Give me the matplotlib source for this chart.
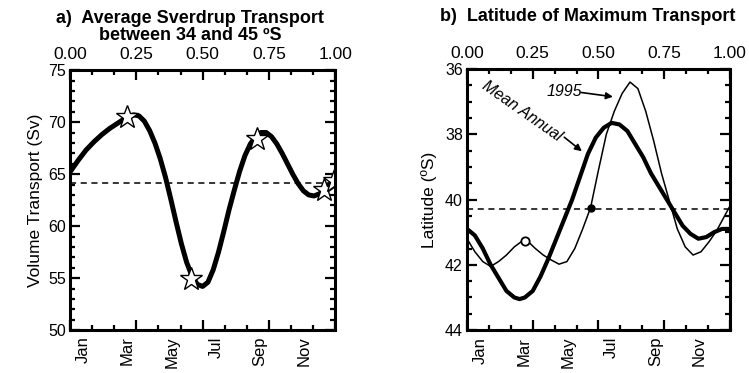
import numpy as np
import matplotlib
matplotlib.use("Agg")
from matplotlib import pyplot as plt
from matplotlib import transforms

plt.rcParams['font.family'] = ['Liberation Sans', 'DejaVu Sans']

# Datos (x = fraccion del ano)
# ================================================
# a) transporte medio de Sverdrup (Sv)
x_a = [0.00, 0.03, 0.06, 0.09, 0.12, 0.15, 0.18, 0.21, 0.24, 0.26, 0.28, 0.30,
       0.32, 0.34, 0.36, 0.38, 0.40, 0.42, 0.44, 0.46, 0.48, 0.50, 0.52, 0.54,
       0.56, 0.58, 0.60, 0.62, 0.64, 0.66, 0.68, 0.70, 0.72, 0.74, 0.76, 0.78,
       0.80, 0.82, 0.84, 0.86, 0.88, 0.90, 0.92, 0.94, 0.96, 0.98, 1.00]
transporte = [65.2, 66.3, 67.3, 68.1, 68.8, 69.4, 69.9, 70.4, 70.7, 70.6, 70.1, 69.2,
              68.0, 66.5, 64.7, 62.6, 60.4, 58.3, 56.5, 55.2, 54.4, 54.2, 54.6, 55.8,
              57.5, 59.5, 61.6, 63.5, 65.3, 66.8, 67.9, 68.6, 69.0, 69.0, 68.6, 67.9,
              67.0, 66.0, 65.0, 64.1, 63.4, 63.0, 62.9, 63.1, 63.5, 64.0, 64.5]
estrellas_x = [0.213, 0.458, 0.707, 0.958, 0.995]
estrellas_y = [70.5, 54.9, 68.4, 63.5, 64.3]
media_a = 64.1

# b) latitud del transporte maximo (oS)
x_b = [0.00, 0.03, 0.06, 0.09, 0.12, 0.15, 0.18, 0.20, 0.22, 0.25, 0.28, 0.31,
       0.34, 0.37, 0.40, 0.43, 0.46, 0.49, 0.52, 0.55, 0.58, 0.61, 0.64, 0.67,
       0.70, 0.73, 0.76, 0.79, 0.82, 0.85, 0.88, 0.91, 0.94, 0.97, 1.00]
lat_media = [40.9, 41.1, 41.5, 42.0, 42.4, 42.8, 43.0, 43.05, 43.0, 42.8, 42.35, 41.8,
             41.2, 40.6, 40.0, 39.3, 38.6, 38.1, 37.8, 37.65, 37.7, 37.9, 38.3, 38.7,
             39.2, 39.6, 40.0, 40.4, 40.8, 41.05, 41.2, 41.15, 41.0, 40.9, 40.9]
x_1995 = [0.00, 0.03, 0.06, 0.09, 0.12, 0.15, 0.18, 0.21, 0.23, 0.26, 0.29, 0.32,
          0.35, 0.38, 0.41, 0.44, 0.47, 0.50, 0.53, 0.56, 0.59, 0.62, 0.65, 0.68,
          0.71, 0.74, 0.77, 0.80, 0.83, 0.86, 0.89, 0.92, 0.95, 0.98, 1.00]
lat_1995 = [41.2, 41.6, 41.9, 42.05, 41.9, 41.7, 41.45, 41.27, 41.27, 41.5, 41.7, 41.85,
            41.98, 41.9, 41.5, 40.9, 40.25, 39.1, 38.0, 37.3, 36.75, 36.4, 36.6, 37.3,
            38.2, 39.2, 40.05, 40.9, 41.45, 41.7, 41.6, 41.3, 40.95, 40.5, 40.2]
media_b = 40.3
circulo = (0.22, 41.27)
punto = (0.47, 40.25)

meses = ['Jan', 'Mar', 'May', 'Jul', 'Sep', 'Nov']
meses_idx = [0, 2, 4, 6, 8, 10]
top_labels = ['0.00', '0.25', '0.50', '0.75', '1.00']


def ejes(ax):
    # ticks hacia dentro en los cuatro lados
    for s in ax.spines.values():
        s.set_linewidth(2.2)
    ax.set_xlim(0, 1)
    ax.set_xticks(np.arange(0, 1.01, 0.25))
    ax.set_xticklabels(top_labels)
    ax.set_xticks(np.arange(13) / 12, minor=True)
    ax.tick_params(which='both', direction='in', top=True, right=True,
                   labeltop=True, labelbottom=False, width=1.6)
    ax.tick_params(which='major', length=7, pad=3)
    ax.tick_params(axis='x', which='major', pad=6)
    ax.tick_params(which='minor', length=3.5)
    ax.tick_params(axis='x', labelsize=12.5)
    ax.tick_params(axis='y', labelsize=11.5)
    tr = transforms.blended_transform_factory(ax.transData, ax.transAxes)
    for m, nombre in zip(meses_idx, meses):
        ax.text((m + 0.6) / 12, -0.025, nombre, transform=tr, rotation=90,
                ha='center', va='top', fontsize=12)


fig = plt.figure(figsize=(7.49, 3.73), dpi=100)

# a) Transporte
ax1 = fig.add_axes([0.0935, 0.115, 0.354, 0.697])
ax1.plot(x_a, transporte, color='black', lw=3.6, solid_capstyle='round')
ax1.axhline(media_a, color='black', lw=1.1, ls=(0, (4, 3)))
ax1.plot(estrellas_x, estrellas_y, ls='none', marker='*', ms=17,
         mfc='white', mec='black', mew=1.0)
ax1.set_ylim(50, 75)
ax1.set_yticks(np.arange(50, 76, 5))
ax1.set_yticks(np.arange(50, 76, 1), minor=True)
ejes(ax1)
ax1.set_ylabel('Volume Transport (Sv)', fontsize=12.5, labelpad=4)
fig.text(0.254, 0.928, 'a)  Average Sverdrup Transport\nbetween 34 and 45 ºS',
         ha='center', va='center', fontsize=13, fontweight='bold', linespacing=1.02)

# b) Latitud
ax2 = fig.add_axes([0.6235, 0.115, 0.351, 0.70])
ax2.plot(x_b, lat_media, color='black', lw=3.0)
ax2.plot(x_1995, lat_1995, color='black', lw=1.1)
ax2.axhline(media_b, color='black', lw=1.1, ls=(0, (4, 3)))
ax2.plot(*circulo, marker='o', ms=6, mfc='white', mec='black', mew=1.3)
ax2.plot(*punto, marker='o', ms=5, mfc='black', mec='black')
ax2.set_ylim(44, 36)
ax2.set_yticks(np.arange(36, 44.1, 2))
ax2.set_yticks(np.arange(36, 44.1, 0.5), minor=True)
ejes(ax2)
ax2.set_ylabel('Latitude (ºS)', fontsize=12.5, labelpad=6)
fig.text(0.784, 0.955, 'b)  Latitude of Maximum Transport',
         ha='center', va='center', fontsize=13, fontweight='bold')

ax2.text(0.37, 36.69, '1995', ha='center', va='center', fontsize=11.5,
         style='italic')
ax2.annotate('', xy=(0.555, 36.85), xytext=(0.435, 36.72),
             arrowprops=dict(arrowstyle='-|>', color='black', lw=1.2,
                             shrinkA=0, shrinkB=0))
ax2.text(0.21, 37.3, 'Mean Annual', rotation=-35, ha='center', va='center',
         fontsize=11.5, style='italic', rotation_mode='anchor')
ax2.annotate('', xy=(0.437, 38.52), xytext=(0.37, 38.09),
             arrowprops=dict(arrowstyle='-|>', color='black', lw=1.2,
                             shrinkA=0, shrinkB=0))

fig.savefig('out.png', dpi=100)
